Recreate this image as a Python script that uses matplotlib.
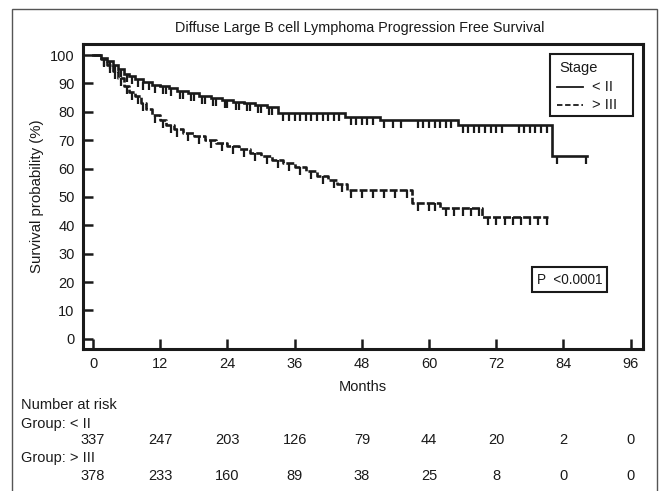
import matplotlib
matplotlib.use("Agg")
import matplotlib.pyplot as plt
import matplotlib.markers as mmarkers
from matplotlib.patches import Rectangle
import matplotlib.transforms as mtrans
import numpy as np

plt.rcParams['font.family'] = ['Liberation Sans', 'DejaVu Sans']

# ---- data ----
group_names = ["< II", "> III"]

times_lo = [0, 1.5, 2.5, 3.5, 4.5, 5.5, 6.5, 7.5, 9, 10.5, 12, 13.5, 15, 17, 19, 21,
            23, 25, 27, 29, 31, 33, 45, 51.3, 65.2, 82]
surv_lo = [100, 99, 98, 96.5, 95, 93.5, 92.5, 91.5, 90.5, 89.5, 89, 88.3, 87.5, 86.5,
           85.5, 85, 84.3, 83.6, 83, 82.5, 81.8, 79.6, 78.3, 77.1, 75.4, 64.4]
end_lo = 88.2
censor_lo = [2, 3, 4, 5, 6, 7, 8, 9, 10, 11, 12.5, 13, 14, 15.5, 16, 17.5, 18, 19.5, 20,
             21.5, 22, 23.5, 24, 25.5, 26, 27.5, 28, 29.5, 30, 31.5, 32, 34, 35, 36, 37,
             38, 39, 40, 41, 42, 43, 44, 46, 47, 48, 49, 50, 52, 53.5, 55, 58, 59, 60,
             61, 62, 63, 64, 66, 67, 68, 69, 70, 71, 72, 73, 76, 77, 78, 79, 80, 81,
             82.8, 88]

times_hi = [0, 1.5, 2.5, 3.5, 4.5, 5.5, 6.5, 7.5, 8.5, 9.5, 10.5, 12, 13, 14.5, 16, 18,
            20, 22, 24, 26, 28, 30, 32, 34, 36, 38, 40, 42, 43.5, 45.3, 56.9, 62, 69.4]
surv_hi = [100, 98.5, 96.5, 94.5, 92, 89, 87, 85.5, 83, 81, 79, 77, 75.5, 74, 72.5,
           71.5, 70, 69, 68, 67, 65.5, 64.5, 63, 62, 60.5, 59, 57.5, 56, 54.5, 52.5,
           48, 46, 43]
end_hi = 81.3
censor_hi = [2, 3, 4, 5, 6, 7, 8, 9, 11, 12.5, 14, 15, 17, 19, 21, 23, 25, 27, 29, 31,
             33, 35, 37, 39, 41, 43, 44.5, 46, 48, 50, 52, 54, 56, 58, 60, 61, 63, 64.5,
             66, 67.5, 69, 70.5, 72, 73.5, 75, 76.5, 78, 79.5, 81]

xticks = [0, 12, 24, 36, 48, 60, 72, 84, 96]
yticks = [0, 10, 20, 30, 40, 50, 60, 70, 80, 90, 100]
risk_lo = [337, 247, 203, 126, 79, 44, 20, 2, 0]
risk_hi = [378, 233, 160, 89, 38, 25, 8, 0, 0]
p_text = "P  <0.0001"

INK = '#1a1a1a'
FS = 10.5

# ---- figure ----
W, H = 661, 491
fig = plt.figure(figsize=(W / 100, H / 100), dpi=100)
fig.patch.set_facecolor('white')

def fx(px):
    return px / W

def fy(py):
    return 1 - py / H

# outer frame
fig.patches.append(Rectangle((fx(12), fy(495)), fx(657) - fx(12), fy(9) - fy(495),
                             transform=fig.transFigure, fill=False,
                             edgecolor='#555555', linewidth=1.0))

ax = fig.add_axes([fx(83), fy(349), fx(643) - fx(83), fy(44) - fy(349)])
ax.set_xlim(-1.8, 98.2)
ax.set_ylim(-3.6, 103.9)

def step_series(times, surv, end):
    x = list(times) + [end]
    y = list(surv) + [surv[-1]]
    return x, y

def surv_at(times, surv, t):
    idx = np.searchsorted(times, t, side='right') - 1
    return np.array(surv)[idx]

x, y = step_series(times_lo, surv_lo, end_lo)
ax.step(x, y, where='post', color=INK, linewidth=1.9, solid_joinstyle='miter')
ax.plot(censor_lo, surv_at(times_lo, surv_lo, censor_lo), linestyle='none',
        marker=mmarkers.TICKDOWN, markersize=5.5, markeredgewidth=1.6, color=INK)

x, y = step_series(times_hi, surv_hi, end_hi)
ax.step(x, y, where='post', color=INK, linewidth=1.9, linestyle=(0, (3, 0.8)))
ax.plot(censor_hi, surv_at(times_hi, surv_hi, censor_hi), linestyle='none',
        marker=mmarkers.TICKDOWN, markersize=5.5, markeredgewidth=1.6, color=INK)

for s in ax.spines.values():
    s.set_linewidth(2.2)
    s.set_color(INK)

ax.set_xticks(xticks)
ax.set_yticks(yticks)
ax.tick_params(axis='x', direction='in', length=7, width=1.8, labelsize=FS,
               pad=6, colors=INK)
ax.tick_params(axis='y', direction='in', length=7, width=1.8, labelsize=FS,
               pad=6, colors=INK)
ax.set_xlabel("Months", fontsize=FS, labelpad=6, color=INK)
ax.set_ylabel("Survival probability (%)", fontsize=10.8, labelpad=4, color=INK)

fig.text(fx(360), fy(28), "Diffuse Large B cell Lymphoma Progression Free Survival",
         ha='center', va='center', fontsize=10.4, color=INK)

# legend box
lx0, ly0, lx1, ly1 = 550, 54, 633, 116
fig.patches.append(Rectangle((fx(lx0), fy(ly1)), fx(lx1) - fx(lx0), fy(ly0) - fy(ly1),
                             transform=fig.transFigure, fill=True, facecolor='white',
                             edgecolor=INK, linewidth=1.5, zorder=5))
fig.text(fx(559), fy(68), "Stage", ha='left', va='center', fontsize=FS,
         color=INK, zorder=6)
fig.lines.append(plt.Line2D([fx(557), fx(583)], [fy(87), fy(87)], transform=fig.transFigure,
                            color=INK, linewidth=1.3, zorder=6))
fig.lines.append(plt.Line2D([fx(557), fx(583)], [fy(105), fy(105)], transform=fig.transFigure,
                            color=INK, linewidth=1.3, linestyle=(0, (3, 1.5)), zorder=6))
fig.text(fx(592), fy(87), group_names[0], ha='left', va='center', fontsize=FS,
         color=INK, zorder=6)
fig.text(fx(592), fy(105), group_names[1], ha='left', va='center', fontsize=FS,
         color=INK, zorder=6)

# p-value box
fig.patches.append(Rectangle((fx(532), fy(292)), fx(607) - fx(532), fy(267) - fy(292),
                             transform=fig.transFigure, fill=True, facecolor='white',
                             edgecolor=INK, linewidth=1.5, zorder=5))
fig.text(fx(569.5), fy(280), p_text, ha='center', va='center', fontsize=9.8,
         color=INK, zorder=6)

# number at risk table
fig.text(fx(21), fy(405), "Number at risk", ha='left', va='center', fontsize=FS,
         color=INK)
fig.text(fx(21), fy(424), "Group: " + group_names[0], ha='left', va='center',
         fontsize=FS, color=INK)
fig.text(fx(21), fy(458), "Group: " + group_names[1], ha='left', va='center',
         fontsize=FS, color=INK)
blend = mtrans.blended_transform_factory(ax.transData, fig.transFigure)
for t, n in zip(xticks, risk_lo):
    fig.text(t, fy(440), str(n), transform=blend, ha='center', va='center',
             fontsize=FS, color=INK)
for t, n in zip(xticks, risk_hi):
    fig.text(t, fy(476), str(n), transform=blend, ha='center', va='center',
             fontsize=FS, color=INK)

fig.savefig("out.png", dpi=100, facecolor='white')
